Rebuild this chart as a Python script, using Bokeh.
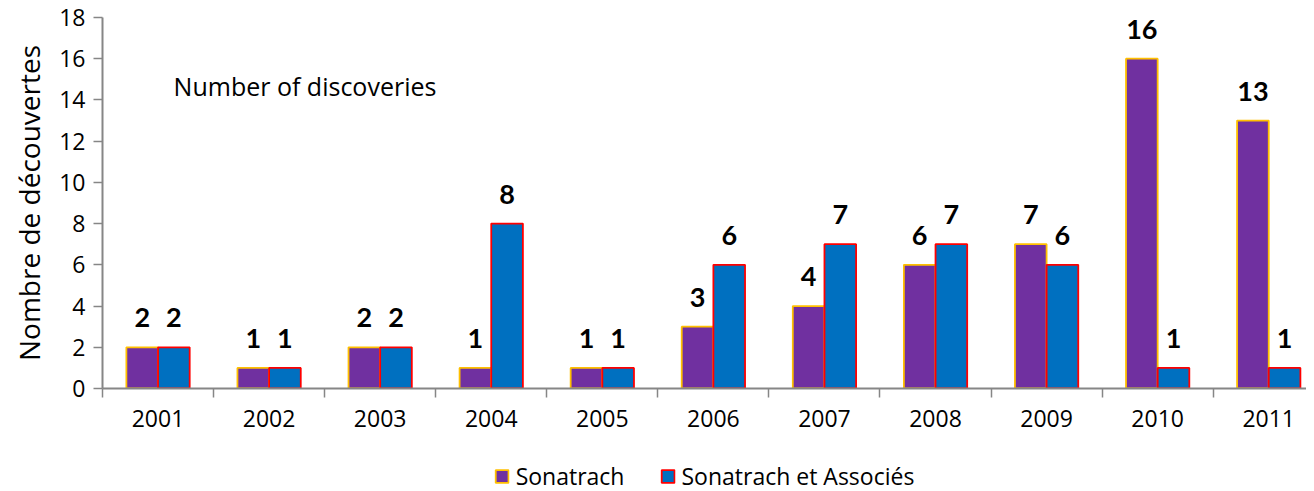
from bokeh.plotting import figure
from bokeh.layouts import column
from bokeh.models import Range1d, FixedTicker, Legend, LegendItem, ColumnDataSource, LabelSet, Label
from bokeh.core.properties import value
from bokeh.embed import file_html
from bokeh.resources import INLINE

years = ["2001", "2002", "2003", "2004", "2005", "2006", "2007", "2008", "2009", "2010", "2011"]
sonatrach = [2, 1, 2, 1, 1, 3, 4, 6, 7, 16, 13]
associes = [2, 1, 2, 8, 1, 6, 7, 7, 6, 1, 1]
series_names = ["Sonatrach", "Sonatrach et Associés"]
y_ticks = [0, 2, 4, 6, 8, 10, 12, 14, 16, 18]

FONT = "Open Sans"
BOLD_FONT = "Lato"
BAR_W = 0.285
C1_FILL, C1_LINE = "#7030A0", "#FFC000"
C2_FILL, C2_LINE = "#0070C0", "#FF0000"

idx = list(range(len(years)))
centers = [i + 0.5 for i in idx]
src1 = ColumnDataSource(dict(x=[c - BAR_W / 2 for c in centers], top=sonatrach,
                             lab=[str(v) for v in sonatrach]))
src2 = ColumnDataSource(dict(x=[c + BAR_W / 2 for c in centers], top=associes,
                             lab=[str(v) for v in associes]))

p = figure(width=1306, height=440, output_backend="svg", toolbar_location=None,
           x_range=Range1d(0, 10.84), y_range=Range1d(0, 18),
           min_border_left=102, min_border_right=0, min_border_top=17, min_border_bottom=52)
p.outline_line_color = None
p.xgrid.visible = False
p.ygrid.visible = False

p.vbar(x="x", top="top", width=BAR_W, source=src1, fill_color=C1_FILL,
       line_color=C1_LINE, line_width=1.8)
p.vbar(x="x", top="top", width=BAR_W, source=src2, fill_color=C2_FILL,
       line_color=C2_LINE, line_width=1.8)

for s in (src1, src2):
    p.add_layout(LabelSet(x="x", y="top", text="lab", source=s, text_align="center",
                          text_baseline="alphabetic", y_offset=20, text_font=value(BOLD_FONT),
                          text_font_size=value("27px"), text_font_style=value("bold"),
                          text_color=value("black")))

p.add_layout(Label(x=0.64, y=14.7, text="Number of discoveries", text_font=FONT,
                   text_font_size="25px", text_baseline="middle", text_color="black"))

AX = "#868686"
xa = p.xaxis[0]
xa.ticker = FixedTicker(ticks=centers, minor_ticks=list(range(len(years) + 1)))
xa.major_label_overrides = {c: y for c, y in zip(centers, years)}
xa.major_tick_line_color = None
xa.minor_tick_line_color = AX
xa.minor_tick_line_width = 1.5
xa.minor_tick_out = 9
xa.minor_tick_in = 0
xa.axis_line_color = AX
xa.axis_line_width = 2
xa.major_label_text_font = FONT
xa.major_label_text_font_size = "23px"
xa.major_label_text_color = "black"
xa.major_label_standoff = 12

ya = p.yaxis[0]
ya.ticker = FixedTicker(ticks=y_ticks)
ya.minor_tick_line_color = None
ya.major_tick_line_color = AX
ya.major_tick_line_width = 1.5
ya.major_tick_out = 9
ya.major_tick_in = 0
ya.axis_line_color = AX
ya.axis_line_width = 2
ya.major_label_text_font = FONT
ya.major_label_text_font_size = "23px"
ya.major_label_text_color = "black"
ya.major_label_standoff = 8
ya.axis_label = "Nombre de découvertes"
ya.axis_label_text_font = FONT
ya.axis_label_text_font_size = "28px"
ya.axis_label_text_font_style = "normal"
ya.axis_label_text_color = "black"
ya.axis_label_standoff = 8

# legend strip below the chart (swatch renderers sit outside the strip's visible range)
p2 = figure(width=1306, height=51, output_backend="svg", toolbar_location=None,
            x_range=Range1d(0, 1), y_range=Range1d(0, 1),
            min_border_left=74, min_border_right=0, min_border_top=0, min_border_bottom=0)
p2.outline_line_color = None
p2.axis.visible = False
p2.grid.visible = False
g1 = p2.quad(left=[-5], right=[-4], bottom=[-5], top=[-4],
             fill_color=C1_FILL, line_color=C1_LINE, line_width=1.8)
g2 = p2.quad(left=[-5], right=[-4], bottom=[-5], top=[-4],
             fill_color=C2_FILL, line_color=C2_LINE, line_width=1.8)

legend = Legend(items=[LegendItem(label=series_names[0], renderers=[g1]),
                       LegendItem(label=series_names[1], renderers=[g2])],
                orientation="horizontal", location="top_center")
legend.border_line_color = None
legend.background_fill_alpha = 0
legend.label_text_font = FONT
legend.label_text_font_size = "23px"
legend.label_text_color = "black"
legend.glyph_width = 16
legend.glyph_height = 16
legend.label_standoff = 6
legend.spacing = 35
legend.padding = 2
legend.margin = 20
p2.add_layout(legend, "center")

open("out.html", "w").write(file_html(column(p, p2, spacing=0), INLINE))
